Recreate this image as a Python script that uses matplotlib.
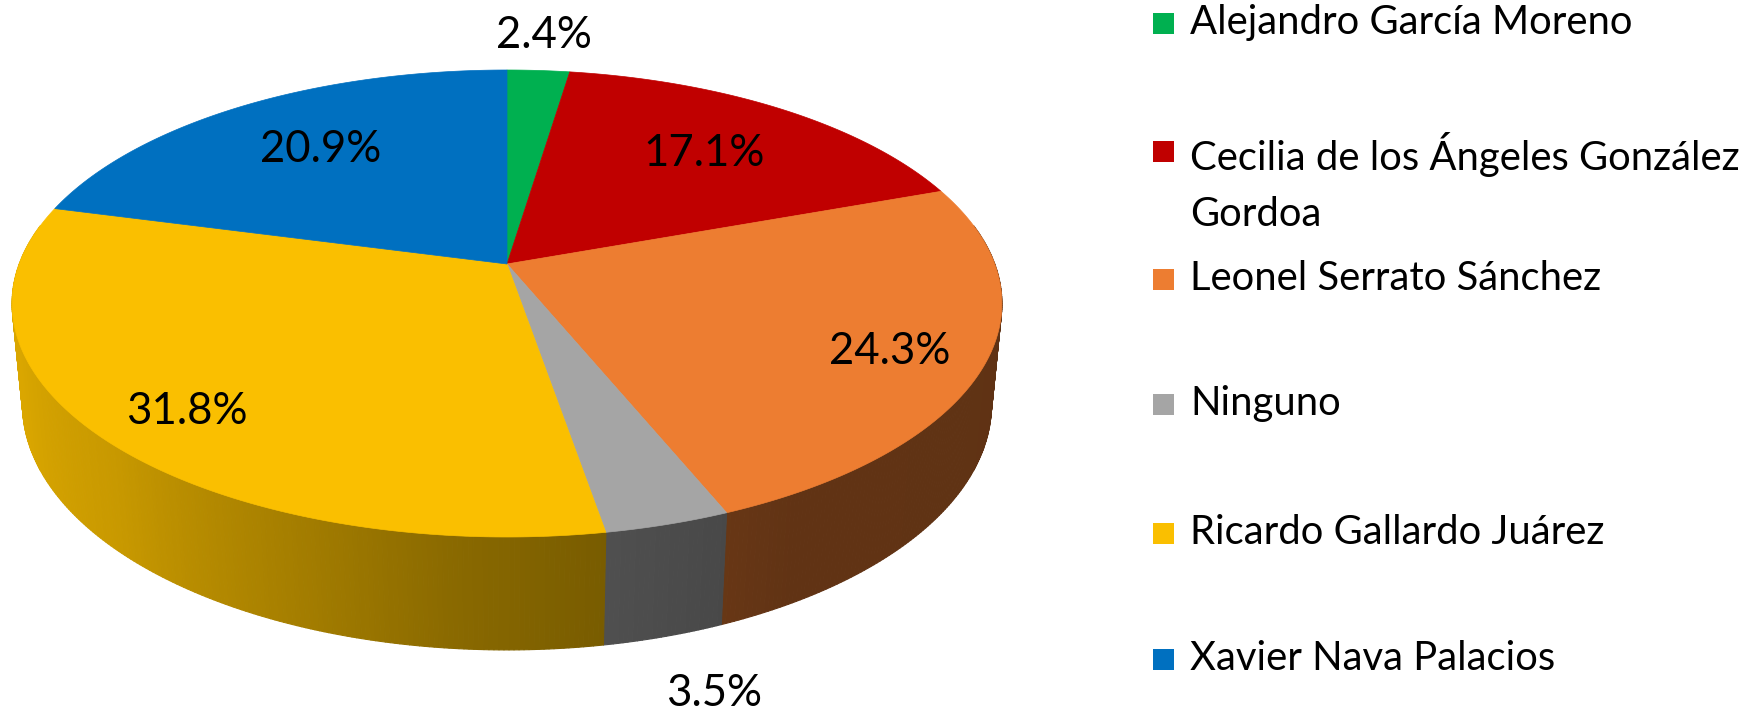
import numpy as np
import matplotlib.pyplot as plt
from matplotlib.collections import PolyCollection
from matplotlib.patches import Polygon, Rectangle
from matplotlib.colors import to_rgb

candidates = ['Alejandro García Moreno',
              'Cecilia de los Ángeles González\nGordoa',
              'Leonel Serrato Sánchez',
              'Ninguno',
              'Ricardo Gallardo Juárez',
              'Xavier Nava Palacios']
shares = [2.4, 17.1, 24.3, 3.5, 31.8, 20.9]
slice_colors = ['#00B050', '#C00000', '#ED7D31', '#A5A5A5', '#FABF00', '#0070C0']

# layout (pixels)
label_xy = [(544, 35), (704, 153), (890, 352), (714, 694), (187, 411), (321, 149)]
legend_y = [24, 152, 280, 405, 534, 660]

# perspective of the disc
CX, CY = 507, 264
SIN_E = 0.465
COS_E = np.sqrt(1 - SIN_E ** 2)
DIST = 5.234
FOC = 2553
DEPTH = 0.236


def project(theta, r=1.0, z=0.0):
    t = np.radians(theta)
    x = r * np.sin(t)
    y = r * np.cos(t)
    den = DIST + y * COS_E - z * SIN_E
    return CX + FOC * x / den, CY - FOC * (y * SIN_E + z * COS_E) / den


def shade(theta):
    return np.interp(theta, [90, 150, 170, 185, 200, 225, 250, 270],
                     [0.40, 0.41, 0.48, 0.55, 0.65, 0.80, 0.87, 0.88])


plt.rcParams['font.family'] = ['Lato', 'DejaVu Sans']
fig = plt.figure(figsize=(17.55, 7.11), dpi=100)
ax = fig.add_axes([0, 0, 1, 1])
ax.set_xlim(0, 1755)
ax.set_ylim(711, 0)
ax.axis('off')

edges = np.concatenate([[0], np.cumsum(shares)]) / sum(shares) * 360

# side walls
quads, cols, keys = [], [], []
for i in range(len(shares)):
    a0, a1 = max(edges[i], 80), min(edges[i + 1], 280)
    if a1 <= a0:
        continue
    ts = np.linspace(a0, a1, max(2, int((a1 - a0) / 0.5) + 1))
    base = np.array(to_rgb(slice_colors[i]))
    for t0, t1 in zip(ts[:-1], ts[1:]):
        p = [project(t0), project(t1), project(t1, z=-DEPTH), project(t0, z=-DEPTH)]
        tm = (t0 + t1) / 2
        quads.append(p)
        cols.append(np.clip(base * shade(tm), 0, 1))
        keys.append(np.cos(np.radians(tm)))
order = np.argsort(keys)[::-1]
walls = PolyCollection([quads[k] for k in order], facecolors=[cols[k] for k in order],
                       edgecolors=[cols[k] for k in order], linewidths=0.8)
ax.add_collection(walls)

# top faces
for i in range(len(shares)):
    ts = np.linspace(edges[i], edges[i + 1], max(3, int((edges[i + 1] - edges[i]) / 0.25)))
    px, py = project(ts)
    pts = np.column_stack([np.r_[CX, px], np.r_[CY, py]])
    ax.add_patch(Polygon(pts, closed=True, facecolor=slice_colors[i],
                         edgecolor=slice_colors[i], lw=0.5))

for v, (lx, ly) in zip(shares, label_xy):
    ax.text(lx, ly, f'{v:.1f}%', fontsize=31.5, ha='center', va='center', color='black')

# legend
for name, c, y in zip(candidates, slice_colors, legend_y):
    ax.add_patch(Rectangle((1153, y - 11), 21, 21, facecolor=c, edgecolor='none'))
    ax.text(1190, y - 20, name, fontsize=28.8, ha='left', va='top',
            linespacing=1.64, color='black')

fig.savefig('out.png', dpi=100, facecolor='white')
